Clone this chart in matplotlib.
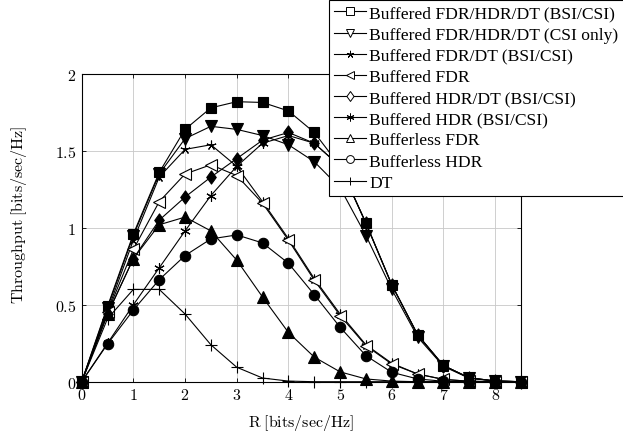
import numpy as np
import matplotlib
matplotlib.use("Agg")
import matplotlib.pyplot as plt
from matplotlib.lines import Line2D
from matplotlib.path import Path
from matplotlib.ticker import FuncFormatter

plt.rcParams["mathtext.fontset"] = "cm"

# rate grid and throughput per scheme
R = [0.0, 0.5, 1.0, 1.5, 2.0, 2.5, 3.0, 3.5, 4.0, 4.5, 5.0, 5.5, 6.0, 6.5, 7.0, 7.5, 8.0, 8.5]

buf_all_bsi = [0, 0.49, 0.96, 1.36, 1.64, 1.78, 1.82, 1.815, 1.76, 1.62, 1.40, 1.03, 0.63, 0.305, 0.105, 0.025, 0.005, 0]
buf_all_csi = [0, 0.48, 0.95, 1.35, 1.58, 1.66, 1.64, 1.60, 1.54, 1.43, 1.26, 0.95, 0.60, 0.29, 0.10, 0.022, 0.004, 0]
buf_fdr_dt = [0, 0.46, 0.92, 1.33, 1.51, 1.54, 1.40, 1.17, 0.93, 0.67, 0.44, 0.24, 0.12, 0.05, 0.015, 0.003, 0, 0]
buf_fdr = [0, 0.45, 0.86, 1.17, 1.35, 1.41, 1.34, 1.16, 0.92, 0.66, 0.43, 0.234, 0.115, 0.05, 0.015, 0.003, 0, 0]
buf_hdr_dt = [0, 0.44, 0.80, 1.05, 1.20, 1.33, 1.45, 1.57, 1.62, 1.55, 1.40, 1.03, 0.63, 0.305, 0.105, 0.025, 0.005, 0]
buf_hdr = [0, 0.25, 0.50, 0.74, 0.98, 1.21, 1.40, 1.55, 1.60, 1.55, 1.40, 1.03, 0.63, 0.305, 0.105, 0.025, 0.005, 0]
nobuf_fdr = [0, 0.44, 0.80, 1.02, 1.07, 0.98, 0.79, 0.55, 0.32, 0.16, 0.064, 0.018, 0.004, 0, 0, 0, 0, 0]
nobuf_hdr = [0, 0.245, 0.466, 0.663, 0.82, 0.928, 0.954, 0.902, 0.77, 0.566, 0.354, 0.169, 0.061, 0.018, 0.003, 0, 0, 0]
dt = [0, 0.41, 0.60, 0.60, 0.44, 0.24, 0.094, 0.024, 0.004, 0, 0, 0, 0, 0, 0, 0, 0, 0]

labels = [
    "Buffered FDR/HDR/DT (BSI/CSI)",
    "Buffered FDR/HDR/DT (CSI only)",
    "Buffered FDR/DT (BSI/CSI)",
    "Buffered FDR",
    "Buffered HDR/DT (BSI/CSI)",
    "Buffered HDR (BSI/CSI)",
    "Bufferless FDR",
    "Bufferless HDR",
    "DT",
]
series = [buf_all_bsi, buf_all_csi, buf_fdr_dt, buf_fdr, buf_hdr_dt,
          buf_hdr, nobuf_fdr, nobuf_hdr, dt]

# pgfplots-like diamond (taller than wide)
diamond = Path([(0, 1), (0.72, 0), (0, -1), (-0.72, 0), (0, 1)],
               [Path.MOVETO, Path.LINETO, Path.LINETO, Path.LINETO, Path.CLOSEPOLY])

# (marker, size, filled in plot)
styles = [
    ("s", 7.5, True),
    ("v", 8.5, True),
    ((5, 2, 0), 7, True),
    ("<", 8.5, False),
    (diamond, 9.5, True),
    ((6, 2, 0), 7.5, True),
    ("^", 8.5, True),
    ("o", 7.5, True),
    ("+", 8, True),
]

fig = plt.figure(figsize=(6.23, 4.35), dpi=100)
ax = fig.add_axes([0.1311, 0.1202, 0.7052, 0.7074])

for y, (m, ms, filled) in zip(series, styles):
    ax.plot(R, y, color="k", lw=0.8, marker=m, ms=ms,
            mfc="k" if filled else "white", mec="k", mew=0.8, clip_on=False)

ax.set_xlim(0, 8.5)
ax.set_ylim(0, 2)
ax.set_xticks(np.arange(0, 9, 1))
ax.set_yticks([0, 0.5, 1, 1.5, 2])
fmt = FuncFormatter(lambda v, p: f"${v:g}$")
ax.xaxis.set_major_formatter(fmt)
ax.yaxis.set_major_formatter(fmt)
ax.tick_params(direction="in", length=3, width=0.6, top=True, right=True,
               labelsize=11.5, pad=4)
ax.grid(True, color="#c8c8c8", lw=0.6)
ax.set_axisbelow(True)
for s in ax.spines.values():
    s.set_linewidth(0.8)

ax.set_xlabel(r"$\mathrm{R\;[bits/sec/Hz]}$", fontsize=11.5)
ax.set_ylabel(r"$\mathrm{Throughput\;[bits/sec/Hz]}$", fontsize=11.5, va="center")
ax.xaxis.set_label_coords(0.5, -0.098)
ax.yaxis.set_label_coords(-0.143, 0.545)

# legend uses hollow marks
handles = [Line2D([], [], color="k", lw=0.8, marker=m, ms=ms * 0.75,
                  mfc="white", mec="k", mew=0.7)
           for (m, ms, _) in styles]
leg = fig.legend(handles, labels, loc="lower left",
                 bbox_to_anchor=(329 / 623, 1 - 197 / 435),
                 prop={"family": "Liberation Serif", "size": 12.6},
                 frameon=True, fancybox=False, framealpha=1, edgecolor="k",
                 borderpad=0.3, handlelength=1.8, handletextpad=0.2,
                 labelspacing=0.28, borderaxespad=0)
leg.get_frame().set_linewidth(0.8)
leg.set_zorder(10)

fig.savefig("out.png", dpi=100)
